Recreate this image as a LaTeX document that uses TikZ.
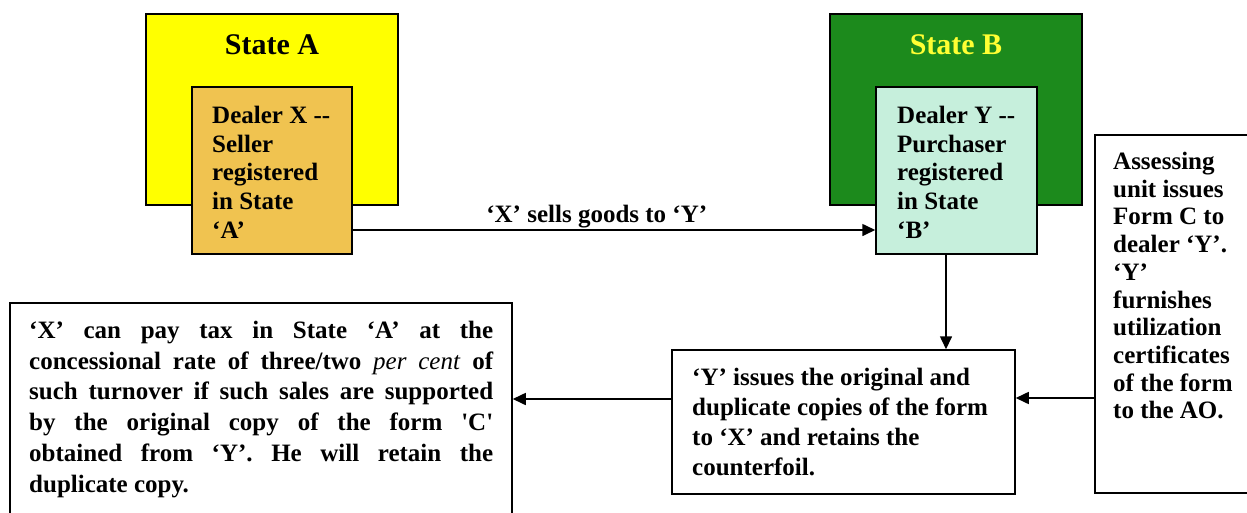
\documentclass[tikz,border=0pt]{standalone}
\usepackage{fontspec}
\setmainfont{Liberation Serif}
\usetikzlibrary{arrows.meta}

\definecolor{stateAfill}{HTML}{FFFF00}
\definecolor{dealerXfill}{HTML}{F0C350}
\definecolor{stateBfill}{HTML}{1C8A1C}
\definecolor{dealerYfill}{HTML}{C6EFDC}
\definecolor{stateBtext}{HTML}{FFFF33}

% one fully justified line of the wide text block
\newcommand{\jline}[1]{\makebox[464pt][s]{\spaceskip=0pt\xspaceskip=0pt\relax #1}}

\begin{document}
\begin{tikzpicture}[x=1pt,y=-1pt,
  boxframe/.style={draw=black, line width=1.5pt, rectangle, inner sep=0pt},
  body/.style={font=\fontsize{25}{28.7}\selectfont\bfseries, align=left, anchor=north west, inner sep=0pt},
  heading/.style={font=\fontsize{30}{34}\selectfont\bfseries, inner sep=0pt},
  arr/.style={-{Triangle[length=13pt,width=12pt]}, line width=1.6pt}]
\useasboundingbox (0,0) rectangle (1247,512);
\clip (0,0) rectangle (1247,512);
\fill[white] (0,0) rectangle (1247,512);

% State A with its dealer
\node[boxframe, fill=stateAfill, minimum width=252pt, minimum height=191pt] (stateA) at (272,109.5) {};
\node[heading] (stateAtitle) at (272,45) {State A};
\node[boxframe, fill=dealerXfill, minimum width=160pt, minimum height=167pt] (dealerX) at (272,170.5) {};
\node[body] (dealerXtext) at (212,106)
  {Dealer X -{}-\\Seller\\registered\\in State\\‘A’};

% State B with its dealer
\node[boxframe, fill=stateBfill, minimum width=252pt, minimum height=191pt] (stateB) at (956,109.5) {};
\node[heading, text=stateBtext] (stateBtitle) at (956,45) {State B};
\node[boxframe, fill=dealerYfill, minimum width=161pt, minimum height=167pt] (dealerY) at (956.5,170.5) {};
\node[body] (dealerYtext) at (897,106)
  {Dealer Y -{}-\\Purchaser\\registered\\in State\\‘B’};

% Form C issued by Y
\node[boxframe, fill=white, minimum width=343pt, minimum height=144pt] (issue) at (843.5,422) {};
\node[body, font=\fontsize{25}{30}\selectfont\bfseries] (issueText) at (692,368)
  {‘Y’ issues the original and\\duplicate copies of the form\\to ‘X’ and retains the\\counterfoil.};

% Assessing unit
\node[boxframe, fill=white, minimum width=167pt, minimum height=358pt] (assess) at (1178.5,314) {};
\node[body, font=\fontsize{25}{27.7}\selectfont\bfseries] (assessText) at (1113,152)
  {Assessing\\unit issues\\Form C to\\dealer ‘Y’.\\‘Y’\\furnishes\\utilization\\certificates\\of the form\\to the AO.};

% Concessional tax for X
\node[boxframe, fill=white, minimum width=502pt, minimum height=230pt] (result) at (261,418) {};
\node[body, font=\fontsize{25}{30.7}\selectfont\bfseries] (resultText) at (29,321)
  {\jline{‘X’ can pay tax in State ‘A’ at the}\\
   \jline{concessional rate of three/two \textit{\mdseries per cent} of}\\
   \jline{such turnover if such sales are supported}\\
   \jline{by the original copy of the form \textquotesingle C\textquotesingle}\\
   \jline{obtained from ‘Y’. He will retain the}\\
   duplicate copy.};

% Connectors
\draw[arr] ([yshift=-59.5pt]dealerX.east) -- ([yshift=-59.5pt]dealerY.west)
  node[pos=0.467, anchor=base, yshift=8pt, inner sep=0pt, font=\fontsize{25}{28}\selectfont\bfseries] (sells) {‘X’ sells goods to ‘Y’};
\draw[arr] ([xshift=-10.5pt]dealerY.south) -- ([xshift=-10.5pt]dealerY.south |- issue.north);
\draw[arr] ([yshift=24pt]issue.east -| assess.west) -- ([yshift=24pt]issue.east);
\draw[arr] ([yshift=23pt]issue.west) -- ([yshift=23pt]issue.west -| result.east);
\end{tikzpicture}
\end{document}
